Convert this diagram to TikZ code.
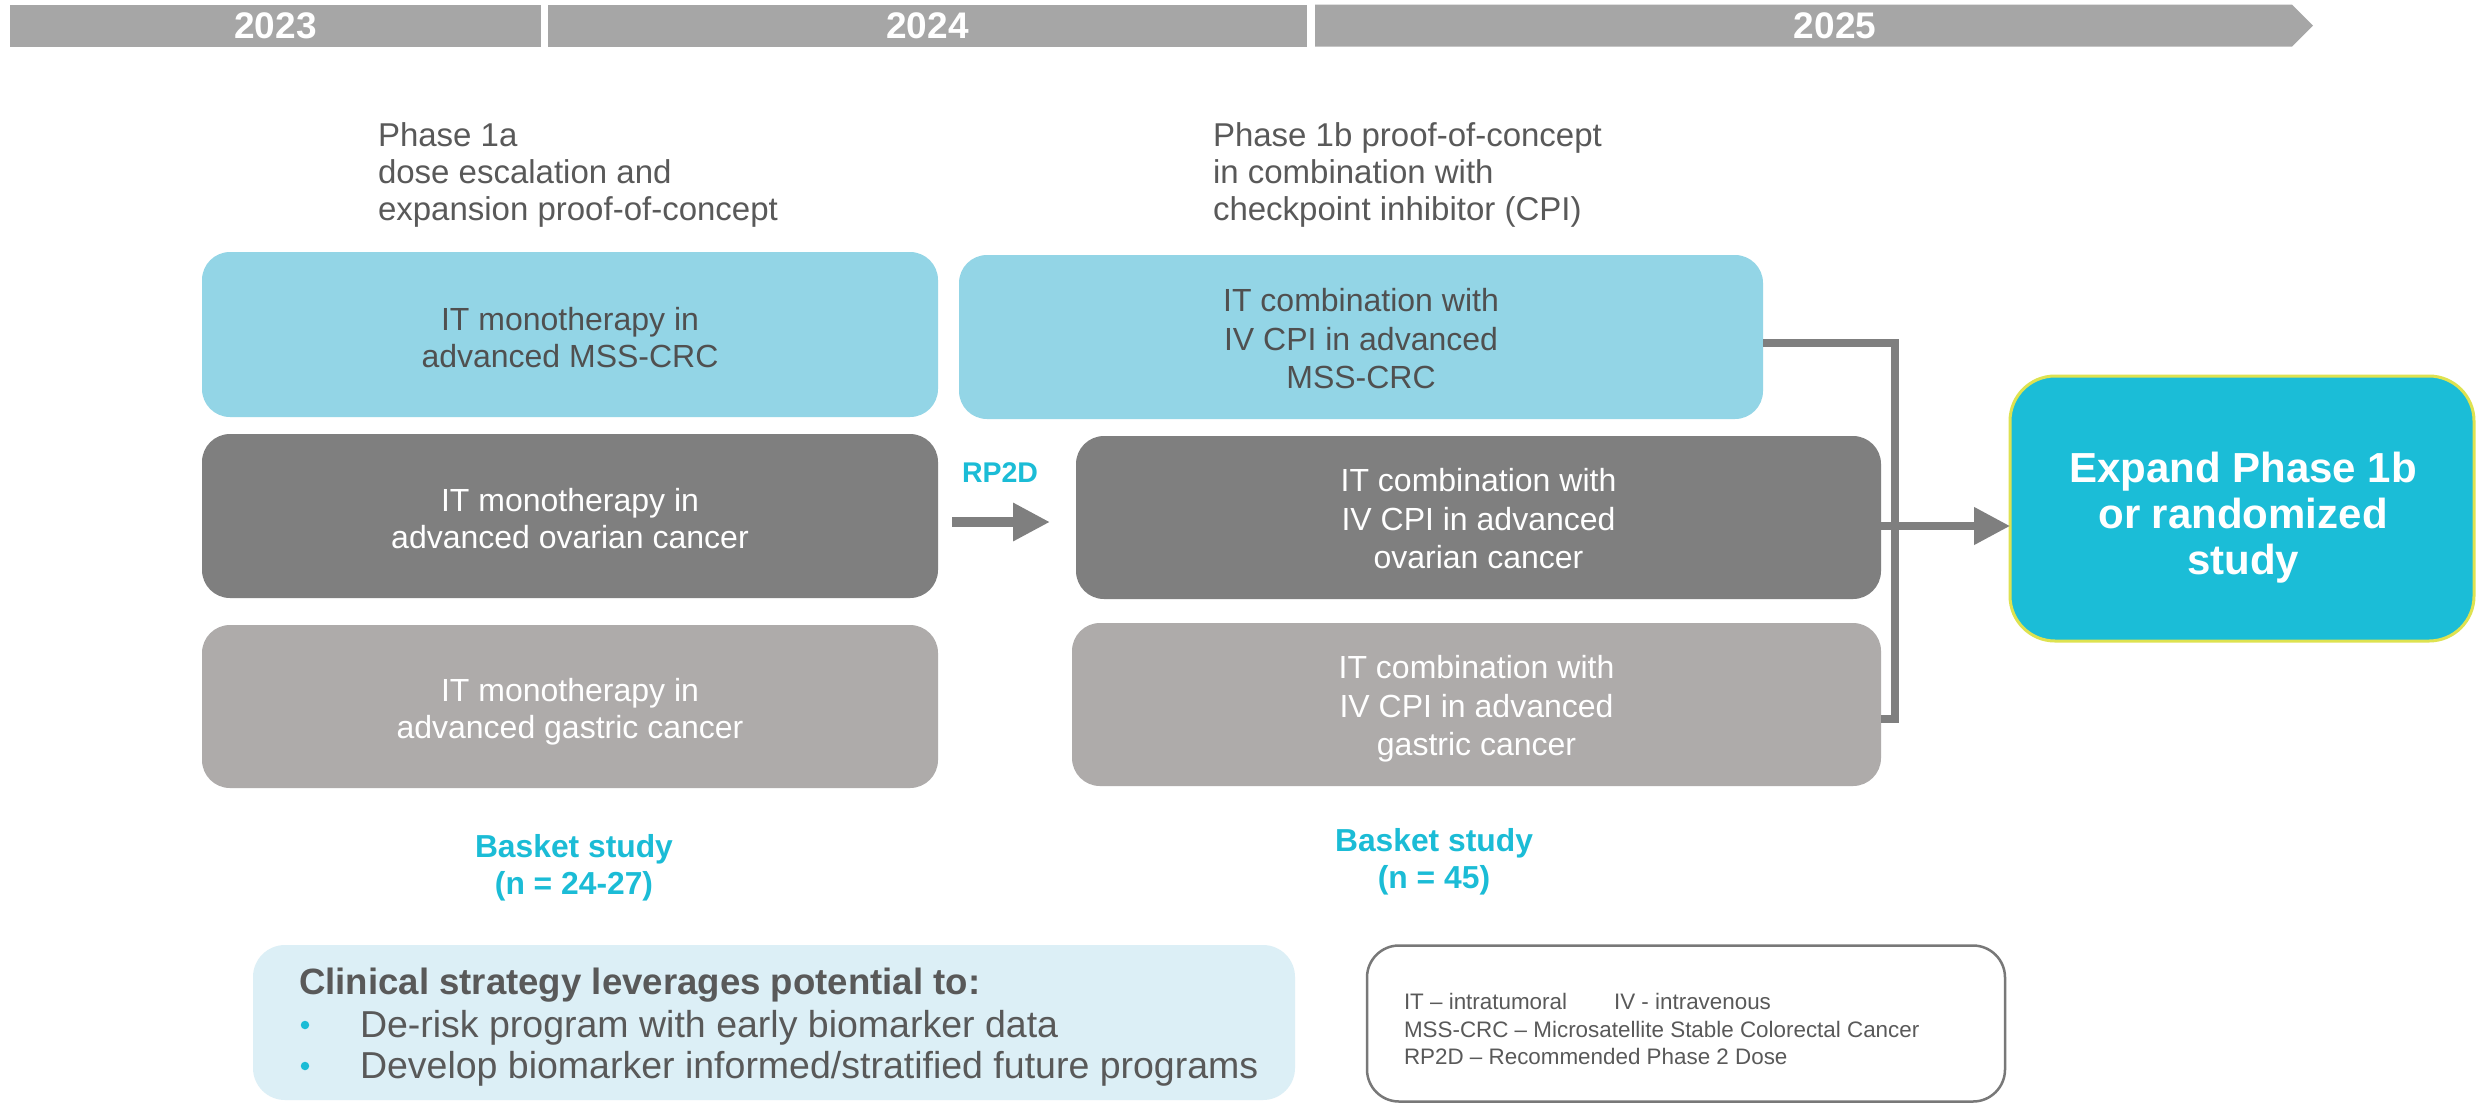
\documentclass[tikz,border=0pt]{standalone}
\usepackage{fontspec}
\setmainfont{Liberation Sans}
\usetikzlibrary{arrows.meta,calc}
\definecolor{bargray}{RGB}{166,166,166}
\definecolor{lblue}{RGB}{147,213,230}
\definecolor{dgray}{RGB}{127,127,127}
\definecolor{lgray}{RGB}{174,171,170}
\definecolor{cyanT}{RGB}{27,188,214}
\definecolor{expfill}{RGB}{27,189,215}
\definecolor{expborder}{RGB}{222,226,80}
\definecolor{txtgray}{RGB}{89,89,89}
\definecolor{boxtxt}{RGB}{80,80,80}
\definecolor{noteblue}{RGB}{220,239,246}
\definecolor{legborder}{RGB}{120,120,120}
\definecolor{conngray}{RGB}{127,127,127}
\newcommand\mytab[2]{\begin{tabular}{@{}#1@{}}#2\end{tabular}}
\tikzset{
  card/.style={rounded corners=28pt},
  bluecard/.style={card, fill=lblue},
  darkcard/.style={card, fill=dgray},
  greycard/.style={card, fill=lgray},
  lefttext/.style={anchor=north, font=\fontsize{32}{36.5}\selectfont},
  midtext/.style={anchor=north, font=\fontsize{32}{38.5}\selectfont},
  phasetext/.style={anchor=north west, text=txtgray, font=\fontsize{33}{37}\selectfont},
  baskettext/.style={anchor=north, text=cyanT, font=\bfseries\fontsize{31.8}{37}\selectfont},
  yeartext/.style={anchor=base, text=white, font=\bfseries\fontsize{37}{40}\selectfont},
  legendtext/.style={anchor=base west, text=txtgray, font=\fontsize{22.4}{27}\selectfont},
  bullettext/.style={anchor=base west, text=txtgray, font=\fontsize{37.5}{42}\selectfont},
  bulletdot/.style={circle, fill=cyanT, minimum size=8.5pt},
  conn/.style={draw=conngray, line width=7.5pt, line join=miter},
  bigarrow/.style={draw=conngray, line width=10pt, -{Triangle[length=37pt,width=36pt]}}
}
\begin{document}
\begin{tikzpicture}[x=1pt,y=-1pt, every node/.style={inner sep=0pt, outer sep=0pt}]
\useasboundingbox (0,0) rectangle (2476,1104);
\fill[white] (0,0) rectangle (2476,1104);

% timeline
\fill[bargray] (10,4.7) rectangle (541,46.7);
\fill[bargray] (548,4.7) rectangle (1307,46.7);
\fill[bargray] (1315,4.7) -- (2292,4.7) -- (2313,25.7) -- (2292,46.7) -- (1315,46.7) -- cycle;
\node[yeartext] (y23) at (275.5,38) {2023};
\node[yeartext] (y24) at (927.5,38) {2024};
\node[yeartext] (y25) at (1835,38) {2025};

% phase labels
\node[phasetext] (p1) at (378,120.1) {\mytab{l}{Phase 1a\\dose escalation and\\expansion proof-of-concept}};
\node[phasetext] (p2) at (1213,120.1) {\mytab{l}{Phase 1b proof-of-concept\\in combination with\\checkpoint inhibitor (CPI)}};

% left boxes
\node[bluecard, minimum width=736pt, minimum height=165pt] (a1) at (570,334.5) {};
\node[darkcard, minimum width=736pt, minimum height=164pt] (a2) at (570,516) {};
\node[greycard, minimum width=736pt, minimum height=163pt] (a3) at (570,706.5) {};
\node[lefttext, text=boxtxt] (a1t) at (570,305) {\mytab{c}{IT monotherapy in\\advanced MSS-CRC}};
\node[lefttext, text=white] (a2t) at (570,486) {\mytab{c}{IT monotherapy in\\advanced ovarian cancer}};
\node[lefttext, text=white] (a3t) at (570,676) {\mytab{c}{IT monotherapy in\\advanced gastric cancer}};

% middle boxes
\node[bluecard, minimum width=804pt, minimum height=164pt] (m1) at (1361,337) {};
\node[darkcard, minimum width=805pt, minimum height=163pt] (m2) at (1478.5,517.5) {};
\node[greycard, minimum width=809pt, minimum height=163pt] (m3) at (1476.5,704.5) {};
\node[midtext, text=boxtxt] (m1t) at (1361,285) {\mytab{c}{IT combination with\\IV CPI in advanced\\MSS-CRC}};
\node[midtext, text=white] (m2t) at (1478.5,465) {\mytab{c}{IT combination with\\IV CPI in advanced\\ovarian cancer}};
\node[midtext, text=white] (m3t) at (1476.5,652) {\mytab{c}{IT combination with\\IV CPI in advanced\\gastric cancer}};

% expand box
\node[fill=expfill, draw=expborder, line width=3pt, rounded corners=45pt, minimum width=464pt, minimum height=265pt] (exp) at (2242,508.5) {};
\node[anchor=north, text=white, font=\bfseries\fontsize{42}{46}\selectfont] (expt) at (2243,449.8) {\mytab{c}{Expand Phase 1b\\or randomized\\study}};

% RP2D arrow
\node[anchor=base, text=cyanT, font=\bfseries\fontsize{28.5}{32}\selectfont] (rp) at (1000,482) {RP2D};
\coordinate (r1) at ([yshift=-6pt]a2.east);
\draw[bigarrow, shorten <=14pt, shorten >=26pt] (r1) -- (r1 -| m2.west);

% right connectors
\coordinate (bus) at (1895,0);
\coordinate (c1) at ([yshift=-6pt]m1.east);
\coordinate (c2) at ([yshift=-8.5pt]m2.east);
\coordinate (c3) at ([yshift=-14.5pt]m3.east);
\draw[conn] (c1) -- (c1 -| bus) -- (c3 -| bus) -- (c3);
\draw[conn, -{Triangle[length=36pt,width=36pt]}] (c2) -- (c2 -| exp.west);

% basket study
\node[baskettext] (bs1) at (574,831.1) {\mytab{c}{Basket study\\(n = 24-27)}};
\node[baskettext] (bs2) at (1434,825.1) {\mytab{c}{Basket study\\(n = 45)}};

% clinical strategy box
\node[fill=noteblue, rounded corners=32pt, minimum width=1042pt, minimum height=155pt] (note) at (774,1022.5) {};
\node[anchor=base west, text=txtgray, font=\bfseries\fontsize{36.6}{40}\selectfont] (nh) at (299,994) {Clinical strategy leverages potential to:};
\node[bulletdot] (d1) at (305,1025) {};
\node[bulletdot] (d2) at (305,1066) {};
\node[bullettext] (b1) at (360,1037) {De-risk program with early biomarker data};
\node[bullettext] (b2) at (360,1078) {Develop biomarker informed/stratified future programs};

% legend box
\node[draw=legborder, line width=2.5pt, rounded corners=32pt, minimum width=638pt, minimum height=156pt] (leg) at (1686,1023.5) {};
\node[legendtext] (l1) at (1404,1009.5) {IT – intratumoral\hspace*{47pt}IV - intravenous};
\node[legendtext] (l2) at (1404,1037) {MSS-CRC – Microsatellite Stable Colorectal Cancer};
\node[legendtext] (l3) at (1404,1064.5) {RP2D – Recommended Phase 2 Dose};
\end{tikzpicture}
\end{document}
